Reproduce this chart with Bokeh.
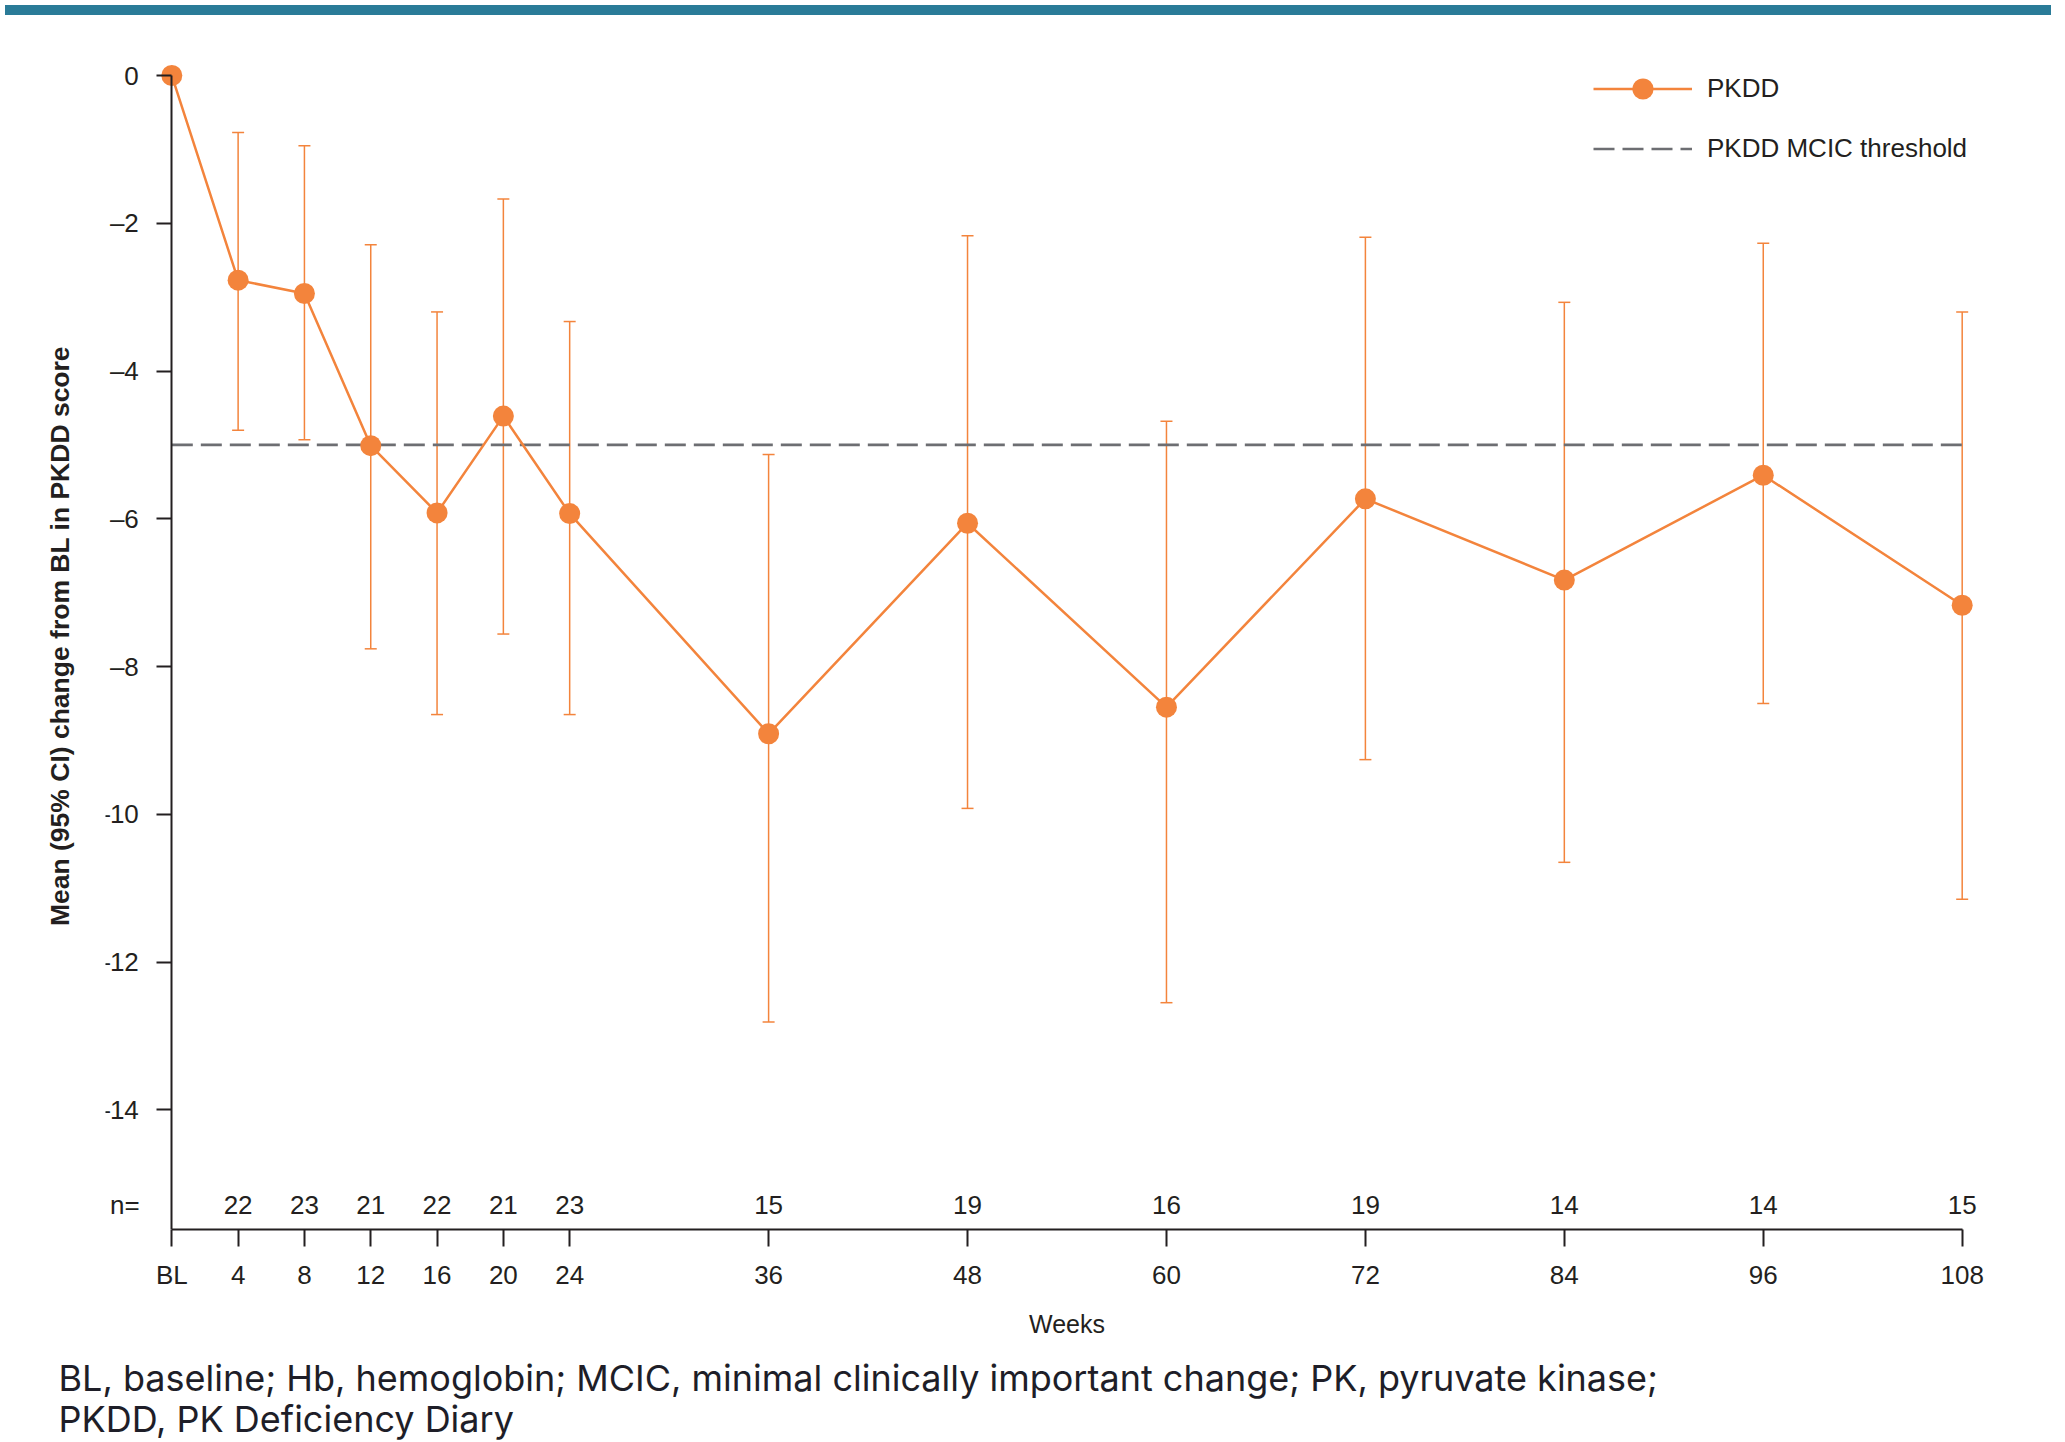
from bokeh.plotting import figure
from bokeh.models import (ColumnDataSource, Whisker, TeeHead, FixedTicker, Legend,
                          LegendItem, Title, Div, Range1d, LinearAxis)
from bokeh.layouts import column
from bokeh.embed import file_html
from bokeh.resources import INLINE
from bokeh.core.properties import value

# ---------------- data ----------------
weeks = [0, 4, 8, 12, 16, 20, 24, 36, 48, 60, 72, 84, 96, 108]
week_labels = ["BL", "4", "8", "12", "16", "20", "24", "36", "48", "60", "72", "84", "96", "108"]
mean_change = [0.0, -2.77, -2.95, -5.01, -5.92, -4.61, -5.93, -8.91, -6.06, -8.55, -5.73, -6.83, -5.41, -7.17]
ci_upper = [None, -0.77, -0.95, -2.29, -3.20, -1.67, -3.33, -5.13, -2.17, -4.68, -2.19, -3.07, -2.27, -3.20]
ci_lower = [None, -4.80, -4.93, -7.76, -8.65, -7.56, -8.65, -12.81, -9.92, -12.55, -9.26, -10.65, -8.50, -11.15]
n_counts = [None, 22, 23, 21, 22, 21, 23, 15, 19, 16, 19, 14, 14, 15]
mcic_threshold = -5.0
y_ticks = [0, -2, -4, -6, -8, -10, -12, -14]

series_label = "PKDD"
threshold_label = "PKDD MCIC threshold"
y_title = "Mean (95% CI) change from BL in PKDD score"
x_title = "Weeks"
caption_1 = "BL, baseline; Hb, hemoglobin; MCIC, minimal clinically important change; PK, pyruvate kinase;"
caption_2 = "PKDD, PK Deficiency Diary"

# ---------------- style ----------------
ORANGE = "#F3843C"
GREY = "#6D6E72"
INK = "#231F20"
TEAL = "#2A7B98"
FONT = "Liberation Sans"

Y_START, Y_END = -15.62, 0.447
N_ROW_Y = -15.29

p = figure(frame_width=1923, frame_height=1187,
           x_range=Range1d(-4, 112), y_range=Range1d(Y_START, Y_END),
           output_backend="svg", toolbar_location=None,
           min_border_left=105, min_border_top=22, min_border_right=10, min_border_bottom=2,
           background_fill_color="white", border_fill_color="white", outline_line_color=None)
p.grid.visible = False

# error bars
ci_src = ColumnDataSource(dict(x=weeks[1:], upper=ci_upper[1:], lower=ci_lower[1:]))
wh = Whisker(base="x", upper="upper", lower="lower", source=ci_src,
             line_color=ORANGE, line_width=1.5,
             upper_head=TeeHead(size=12, line_color=ORANGE, line_width=1.5),
             lower_head=TeeHead(size=12, line_color=ORANGE, line_width=1.5))
p.add_layout(wh)

# threshold
thr = p.line(x=[weeks[0], weeks[-1]], y=[mcic_threshold, mcic_threshold],
             line_color=GREY, line_width=2.7, line_dash="21 8")

# series
src = ColumnDataSource(dict(x=weeks, y=mean_change))
ln = p.line("x", "y", source=src, line_color=ORANGE, line_width=2.5)
pts = p.scatter("x", "y", source=src, size=21, marker="circle",
                fill_color=ORANGE, line_color=ORANGE, line_width=0)

# n= row
n_src = ColumnDataSource(dict(x=weeks[1:], y=[N_ROW_Y] * (len(weeks) - 1),
                              t=[str(v) for v in n_counts[1:]]))
p.text("x", "y", text="t", source=n_src, text_align="center", text_baseline="middle",
       text_font=value(FONT), text_font_size="26px", text_color=INK)
p.text(x=[-2.83], y=[N_ROW_Y], text=["n="], text_align="center", text_baseline="middle",
       text_font=value(FONT), text_font_size="26px", text_color=INK)

# axes
xa = p.xaxis[0]
ya = p.yaxis[0]
for ax in (xa, ya):
    ax.axis_line_width = 2
    ax.axis_line_color = INK
    ax.major_tick_line_width = 2
    ax.major_tick_line_color = INK
    ax.major_tick_in = 0
    ax.minor_tick_in = 0
    ax.minor_tick_out = 0
    ax.major_label_text_font = FONT
    ax.major_label_text_font_size = "26px"
    ax.major_label_text_color = INK
    ax.axis_label_text_font = FONT
    ax.axis_label_text_color = INK

xa.ticker = FixedTicker(ticks=weeks)
xa.major_label_overrides = {w: lab for w, lab in zip(weeks, week_labels)}
xa.bounds = (weeks[0], weeks[-1])
xa.major_tick_out = 17
xa.major_label_standoff = 13
xa.axis_label = x_title
xa.axis_label_text_font_style = "normal"
xa.axis_label_text_font_size = "25px"
xa.axis_label_standoff = 17

ya.fixed_location = 0
ya.ticker = FixedTicker(ticks=y_ticks)
ya.major_label_overrides = {t: ("\u2013" + str(-t) if t < 0 else str(t)) for t in y_ticks}
ya.bounds = (Y_START, 0)
ya.major_tick_out = 15
ya.major_label_standoff = 18

# y-axis title carried by a label-only axis in the left panel
title_axis = LinearAxis(axis_label=y_title, ticker=FixedTicker(ticks=[]),
                        axis_line_color=None, major_tick_out=0, major_tick_in=0,
                        minor_tick_out=0, minor_tick_in=0,
                        axis_label_text_font=FONT, axis_label_text_font_style="bold",
                        axis_label_text_font_size="26.5px", axis_label_text_color=INK,
                        axis_label_standoff=31)
p.add_layout(title_axis, "left")

# legend
legend = Legend(items=[LegendItem(label=series_label, renderers=[ln, pts]),
                       LegendItem(label=threshold_label, renderers=[thr])],
                location=(1488, 1054), orientation="vertical",
                glyph_width=99, glyph_height=53, label_height=53, spacing=7,
                padding=0, margin=0, label_standoff=15,
                label_text_font=FONT, label_text_font_size="26px", label_text_color=INK,
                border_line_color=None, background_fill_alpha=0)
p.add_layout(legend)

# caption
cap = Title(text=caption_1 + "\n" + caption_2, align="left", offset=-47, standoff=27,
            text_font="Inter", text_font_size="36px", text_font_style="normal",
            text_line_height=0.94, text_color="#1E1E28")
p.add_layout(cap, "below")

bar = Div(width=2046, height=10, styles={"background-color": TEAL})
layout = column(bar, p)

open("out.html", "w").write(file_html(layout, INLINE))
